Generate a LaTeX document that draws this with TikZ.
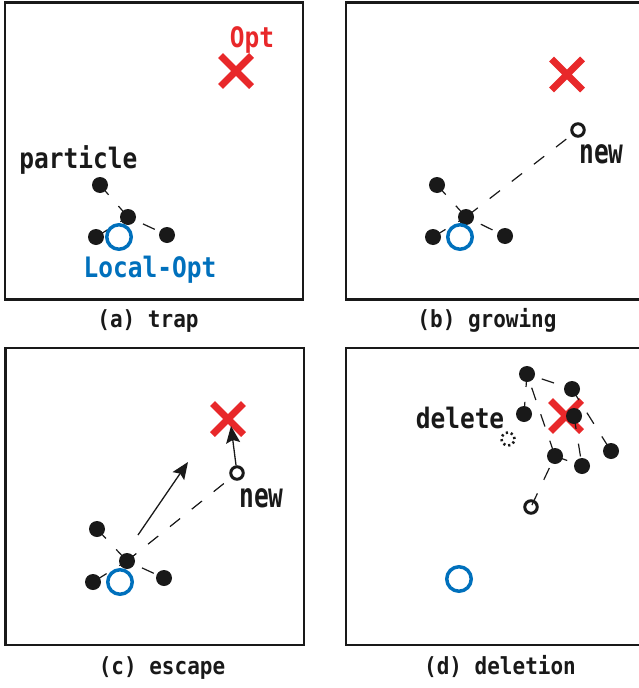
\documentclass[tikz,border=0pt]{standalone}
\usepackage{fontspec}
\setmonofont{DejaVu Sans Mono}
\usetikzlibrary{arrows.meta,shapes.misc}
\definecolor{optred}{RGB}{232,40,42}
\definecolor{locblue}{RGB}{0,112,188}
\definecolor{ink}{RGB}{25,25,25}
\pgfdeclarelayer{xlayer}
\pgfdeclarelayer{elayer}
\pgfsetlayers{xlayer,elayer,main}
\tikzset{
  frame/.style={draw=ink, line width=2.2pt},
  dot/.style={circle, fill=ink, inner sep=0pt, minimum size=16pt},
  lopt/.style={circle, draw=locblue, line width=3.5pt, inner sep=0pt, minimum size=24.5pt},
  newp/.style={circle, draw=ink, line width=3pt, inner sep=0pt, minimum size=12.5pt},
  delp/.style={circle, draw=ink, line width=2.6pt, inner sep=0pt, minimum size=13pt, dash pattern=on 2.2pt off 2.9pt},
  optx/.style={cross out, draw=optred, line width=7pt, inner sep=0pt, minimum size=24pt},
  conn/.style={draw=ink, line width=1.2pt, dash pattern=on 13pt off 15pt},
  arr/.style={draw=ink, line width=1.3pt, -{Stealth[length=17pt,width=14pt,inset=3pt]}},
  lab/.style={font=\fontsize{24.5}{24.5}\selectfont\ttfamily\bfseries, text=ink, anchor=base, inner sep=0pt, yscale=1.15},
  captext/.style={font=\fontsize{21}{21}\selectfont\ttfamily\bfseries, text=ink, anchor=base, inner sep=0pt, yscale=1.12},
}
\begin{document}
\begin{tikzpicture}[x=1pt,y=-1pt]
\useasboundingbox (0,0) rectangle (639,688);
\clip (0,0) rectangle (639,688);
% frames
\draw[frame] (5,2.5) rectangle (303,299.5);
\draw[frame] (346,2.5) rectangle (660,299.5);
\draw[frame] (5.5,348) rectangle (304,645);
\draw[frame] (346,348) rectangle (660,645);

% optimum crosses
\begin{pgfonlayer}{xlayer}
\node[optx] (xa) at (236,71) {};
\node[optx] (xb) at (567,74.5) {};
\node[optx] (xc) at (228,419) {};
\node[optx] (xd) at (566,416) {};
\end{pgfonlayer}

% ---------- (a) trap ----------
\node[lab, text=optred] (opta) at (252,47) {Opt};
\node[lab] (parta) at (78.5,168) {particle};
\node[dot] (a1) at (100,185) {};
\node[dot] (a2) at (128,217) {};
\node[dot] (a3) at (96,237) {};
\node[dot] (a4) at (167,235) {};
\node[lopt] (la) at (119,237) {};
\node[lab, text=locblue] (loca) at (150,277) {Local-Opt};
\node[captext] (capa) at (148,327) {(a) trap};

% ---------- (b) growing ----------
\node[dot] (b1) at (437,185) {};
\node[dot] (b2) at (466,217) {};
\node[dot] (b3) at (433,237) {};
\node[dot] (b4) at (505,236) {};
\node[lopt] (lb) at (460,237) {};
\node[newp] (nb) at (578,130) {};
\node[lab, yscale=1.2] (newb) at (601.5,163) {new};
\node[captext] (capb) at (487,327) {(b) growing};

% ---------- (c) escape ----------
\node[dot] (c1) at (97,529) {};
\node[dot] (c2) at (127,561) {};
\node[dot] (c3) at (93,582) {};
\node[dot] (c4) at (164,578) {};
\node[lopt] (lc) at (120,582) {};
\node[newp] (nc) at (237,473) {};
\node[lab, yscale=1.2] (newc) at (261.5,507) {new};
\node[captext] (capc) at (162,674) {(c) escape};
\coordinate (cs) at (138,535);
\coordinate (ce) at (188,462);
\draw[arr] (cs) -- (ce);
\draw[arr] (nc) -- ([xshift=3pt,yshift=-7pt]xc.center);

% ---------- (d) deletion ----------
\node[dot] (d1) at (527,374) {};
\node[dot] (d2) at (572,389) {};
\node[dot] (d3) at (524,414) {};
\node[dot] (d4) at (574,416) {};
\node[dot] (d5) at (555,456) {};
\node[dot] (d6) at (582,466) {};
\node[dot] (d7) at (611,451) {};
\node[newp] (nd) at (531,507) {};
\node[delp] (del) at (508,439) {};
\node[lab] (dell) at (460,428) {delete};
\node[lopt] (ld) at (459,579) {};
\node[captext] (capd) at (500,674) {(d) deletion};

% dashed connectors
\begin{pgfonlayer}{elayer}
\draw[conn] (a1.center) -- (a2.center);
\draw[conn, dash phase=11.5pt] (a2.center) -- (a4.center);
\draw[conn, dash phase=4pt] (a2.center) -- (a3.center);

\draw[conn] (b1.center) -- (b2.center);
\draw[conn, dash phase=11.5pt] (b2.center) -- (b4.center);
\draw[conn, dash phase=4pt] (b2.center) -- (b3.center);
\draw[conn, dash phase=26pt] (b2.center) -- (nb);

\draw[conn] (c1.center) -- (c2.center);
\draw[conn, dash phase=11.5pt] (c2.center) -- (c4.center);
\draw[conn, dash phase=4pt] (c2.center) -- (c3.center);
\draw[conn, dash phase=1pt] (c2.center) -- (nc);

\draw[conn, dash phase=12.5pt] (d1.center) -- (d2.center);
\draw[conn] (d1.center) -- (d3.center);
\draw[conn, dash phase=13.5pt] (d1.center) -- (d5.center);
\draw[conn] (d2.center) -- (d7.center);
\draw[conn] (d4.center) -- (d6.center);
\draw[conn] (d5.center) -- (d6.center);
\draw[conn, dash phase=14.7pt] (d5.center) -- (nd.center);
\end{pgfonlayer}
\end{tikzpicture}
\end{document}
